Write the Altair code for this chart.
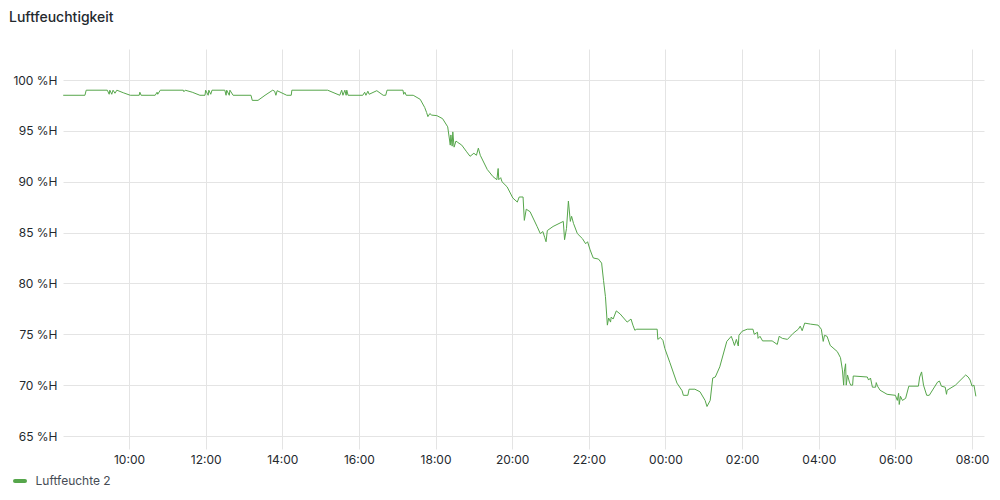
import altair as alt
import pandas as pd

TITLE = "Luftfeuchtigkeit"
SERIES = "Luftfeuchte 2"

times = [
    "08:17", "08:51", "08:53", "09:26", "09:29", "09:30", "09:33", "09:35", "09:38", "09:41",
    "09:51", "10:02", "10:16", "10:17", "10:19", "10:41", "10:44", "10:45", "10:49", "11:25",
    "11:26", "11:28", "11:39", "11:51", "11:59", "12:00", "12:04", "12:05", "12:08", "12:10",
    "12:30", "12:32", "12:33", "12:37", "12:38", "12:43", "13:11", "13:13", "13:22", "13:33",
    "13:45", "13:48", "13:50", "13:52", "14:07", "14:14", "14:15", "15:11", "15:30", "15:33",
    "15:35", "15:38", "15:40", "15:41", "15:43", "16:06", "16:09", "16:11", "16:14", "16:16",
    "16:28", "16:38", "16:42", "16:44", "17:09", "17:10", "17:12", "17:14", "17:25", "17:36",
    "17:43", "17:46", "17:48", "17:51", "17:54", "18:02", "18:11", "18:19", "18:23", "18:24",
    "18:26", "18:27", "18:29", "18:32", "18:34", "18:41", "18:48", "18:54", "19:00", "19:04",
    "19:07", "19:10", "19:21", "19:30", "19:36", "19:38", "19:39", "19:42", "19:44", "19:52",
    "20:01", "20:08", "20:11", "20:17", "20:19", "20:22", "20:28", "20:39", "20:44", "20:48",
    "20:51", "20:53", "20:55", "21:04", "21:20", "21:22", "21:25", "21:28", "21:31", "21:33",
    "21:36", "21:42", "21:50", "21:55", "21:58", "22:02", "22:05", "22:07", "22:15", "22:20",
    "22:23", "22:26", "22:29", "22:31", "22:34", "22:35", "22:38", "22:43", "22:49", "23:00",
    "23:06", "23:09", "23:12", "23:15", "23:47", "23:48", "23:52", "23:56", "23:59", "00:07",
    "00:18", "00:26", "00:28", "00:35", "00:37", "00:46", "00:54", "01:02", "01:05", "01:10",
    "01:14", "01:18", "01:25", "01:36", "01:43", "01:46", "01:48", "01:51", "01:54", "01:55",
    "02:00", "02:08", "02:17", "02:19", "02:24", "02:25", "02:28", "02:32", "02:47", "02:55",
    "02:58", "03:03", "03:11", "03:20", "03:28", "03:31", "03:34", "03:38", "03:47", "03:59",
    "04:04", "04:07", "04:09", "04:13", "04:18", "04:29", "04:34", "04:37", "04:39", "04:40",
    "04:42", "04:43", "04:45", "04:48", "04:50", "04:53", "04:54", "05:16", "05:18", "05:21",
    "05:24", "05:29", "05:30", "05:32", "05:36", "05:47", "06:00", "06:03", "06:05", "06:06",
    "06:08", "06:11", "06:16", "06:21", "06:36", "06:38", "06:41", "06:44", "06:49", "06:53",
    "07:06", "07:09", "07:12", "07:18", "07:20", "07:21", "07:34", "07:50", "07:54", "07:57",
    "08:00", "08:03", "08:06",
]

humidity = [
    98.5, 98.5, 99.0, 99.0, 98.6, 99.0, 98.6, 99.0, 98.7, 99.0,
    98.75, 98.5, 98.5, 98.8, 98.5, 98.5, 98.8, 98.6, 99.0, 99.0,
    98.85, 99.0, 98.8, 98.5, 98.5, 99.0, 98.5, 99.0, 98.6, 99.0,
    99.0, 98.5, 99.0, 98.5, 99.0, 98.5, 98.5, 98.0, 98.0, 98.5,
    99.0, 98.9, 98.5, 98.95, 98.5, 98.5, 99.0, 99.0, 98.5, 99.0,
    98.5, 99.0, 98.5, 99.0, 98.5, 98.5, 98.8, 98.5, 98.9, 98.6,
    98.95, 98.5, 98.5, 99.0, 99.0, 98.6, 98.8, 98.5, 98.5, 98.1,
    97.3, 96.8, 96.4, 96.7, 96.55, 96.5, 96.2, 95.4, 93.6, 94.6,
    93.5, 94.9, 93.4, 94.0, 93.9, 93.6, 93.0, 92.5, 92.8, 92.6,
    93.3, 92.6, 91.2, 90.5, 90.2, 91.3, 90.2, 90.4, 90.0, 89.5,
    88.4, 88.0, 88.5, 88.5, 86.2, 87.3, 87.05, 85.6, 84.9, 85.1,
    84.5, 84.1, 85.2, 85.6, 86.1, 84.3, 85.4, 88.1, 86.1, 86.6,
    85.9, 84.9, 84.4, 83.9, 84.1, 83.3, 82.8, 82.5, 82.4, 82.0,
    80.3, 78.7, 75.9, 76.6, 76.2, 76.7, 76.5, 77.3, 77.0, 76.2,
    76.5, 75.9, 75.4, 75.5, 75.5, 74.5, 74.7, 74.4, 73.6, 72.2,
    70.2, 69.45, 69.0, 69.0, 69.6, 69.6, 69.35, 68.5, 67.9, 68.5,
    70.7, 70.8, 71.8, 74.3, 74.8, 74.3, 73.9, 74.5, 73.85, 74.9,
    75.3, 75.5, 75.5, 75.0, 75.2, 74.6, 74.8, 74.35, 74.35, 74.0,
    74.8, 74.6, 74.5, 75.1, 75.5, 75.8, 75.35, 76.1, 76.0, 75.9,
    75.5, 74.3, 74.9, 74.8, 73.9, 73.3, 72.7, 71.5, 70.0, 71.3,
    72.1, 70.0, 71.0, 70.3, 70.0, 70.0, 70.9, 70.8, 70.5, 70.7,
    69.8, 69.8, 70.25, 69.9, 69.5, 69.1, 69.0, 68.5, 69.2, 68.1,
    68.9, 68.5, 68.7, 69.9, 69.9, 70.8, 71.3, 70.0, 69.0, 69.0,
    70.3, 70.4, 69.9, 69.8, 69.1, 69.5, 70.0, 71.0, 70.8, 70.5,
    69.9, 70.0, 68.9,
]

y_ticks = [65, 70, 75, 80, 85, 90, 95, 100]
x_ticks = [10, 12, 14, 16, 18, 20, 22, 24, 26, 28, 30, 32]  # hours since day-1 midnight
x_range = [8.2777, 32.312]
y_range = [65, 103.05]

# convert clock times to continuous hours (rolling over midnight)
hours = []
offset = 0.0
prev = None
for t in times:
    hh, mm = map(int, t.split(":"))
    v = hh + mm / 60.0
    if prev is not None and v + offset < prev:
        offset += 24.0
    v += offset
    hours.append(v)
    prev = v

df = pd.DataFrame({"hour": hours, "value": humidity})

GREEN = "#56A64B"
GRID = "#e4e4e4"
TEXT = "#24292E"
FONT = "Inter"

line = alt.Chart(df).mark_line(color=GREEN, strokeWidth=1, clip=True).encode(
    x=alt.X(
        "hour:Q",
        scale=alt.Scale(domain=x_range, nice=False, zero=False),
        axis=alt.Axis(
            values=x_ticks,
            labelExpr="(datum.value % 24 < 10 ? '0' : '') + (datum.value % 24) + ':00'",
            grid=True, gridColor=GRID, gridWidth=1,
            ticks=True, tickSize=13, tickColor=GRID,
            domain=False, labelPadding=5,
            labelFont=FONT, labelFontSize=12, labelColor=TEXT,
            labelFlush=False, labelOverlap=False,
            title=None,
        ),
    ),
    y=alt.Y(
        "value:Q",
        scale=alt.Scale(domain=y_range, nice=False, zero=False),
        axis=alt.Axis(
            values=y_ticks,
            labelExpr="datum.value + ' %H'",
            grid=True, gridColor=GRID, gridWidth=1,
            ticks=False, domain=False, labelPadding=6,
            labelFont=FONT, labelFontSize=12, labelColor=TEXT,
            labelFlush=False, labelOverlap=False,
            title=None,
        ),
    ),
)

title_df = pd.DataFrame({"t": [TITLE]})
title = alt.Chart(title_df).mark_text(
    align="left", baseline="alphabetic", fontSize=14, fontWeight=500, font=FONT, color=TEXT
).encode(text="t:N", x=alt.value(-54), y=alt.value(-27))

legend_df = pd.DataFrame({"s": [SERIES]})
swatch = alt.Chart(legend_df).mark_rule(
    color=GREEN, strokeWidth=4, strokeCap="round"
).encode(x=alt.value(-48), x2=alt.value(-38), y=alt.value(432))
legend_text = alt.Chart(legend_df).mark_text(
    align="left", baseline="middle", fontSize=12, font=FONT, color="#464C54"
).encode(text="s:N", x=alt.value(-27.5), y=alt.value(432))

chart = alt.layer(line, title, swatch, legend_text).properties(
    width=921,
    height=387,
    autosize=alt.AutoSizeParams(type="none"),
    padding={"left": 55, "top": 41, "right": 8, "bottom": 52},
    background="white",
).configure_view(strokeWidth=0)

chart.save("out.html", embed_options={"renderer": "svg", "actions": False})
